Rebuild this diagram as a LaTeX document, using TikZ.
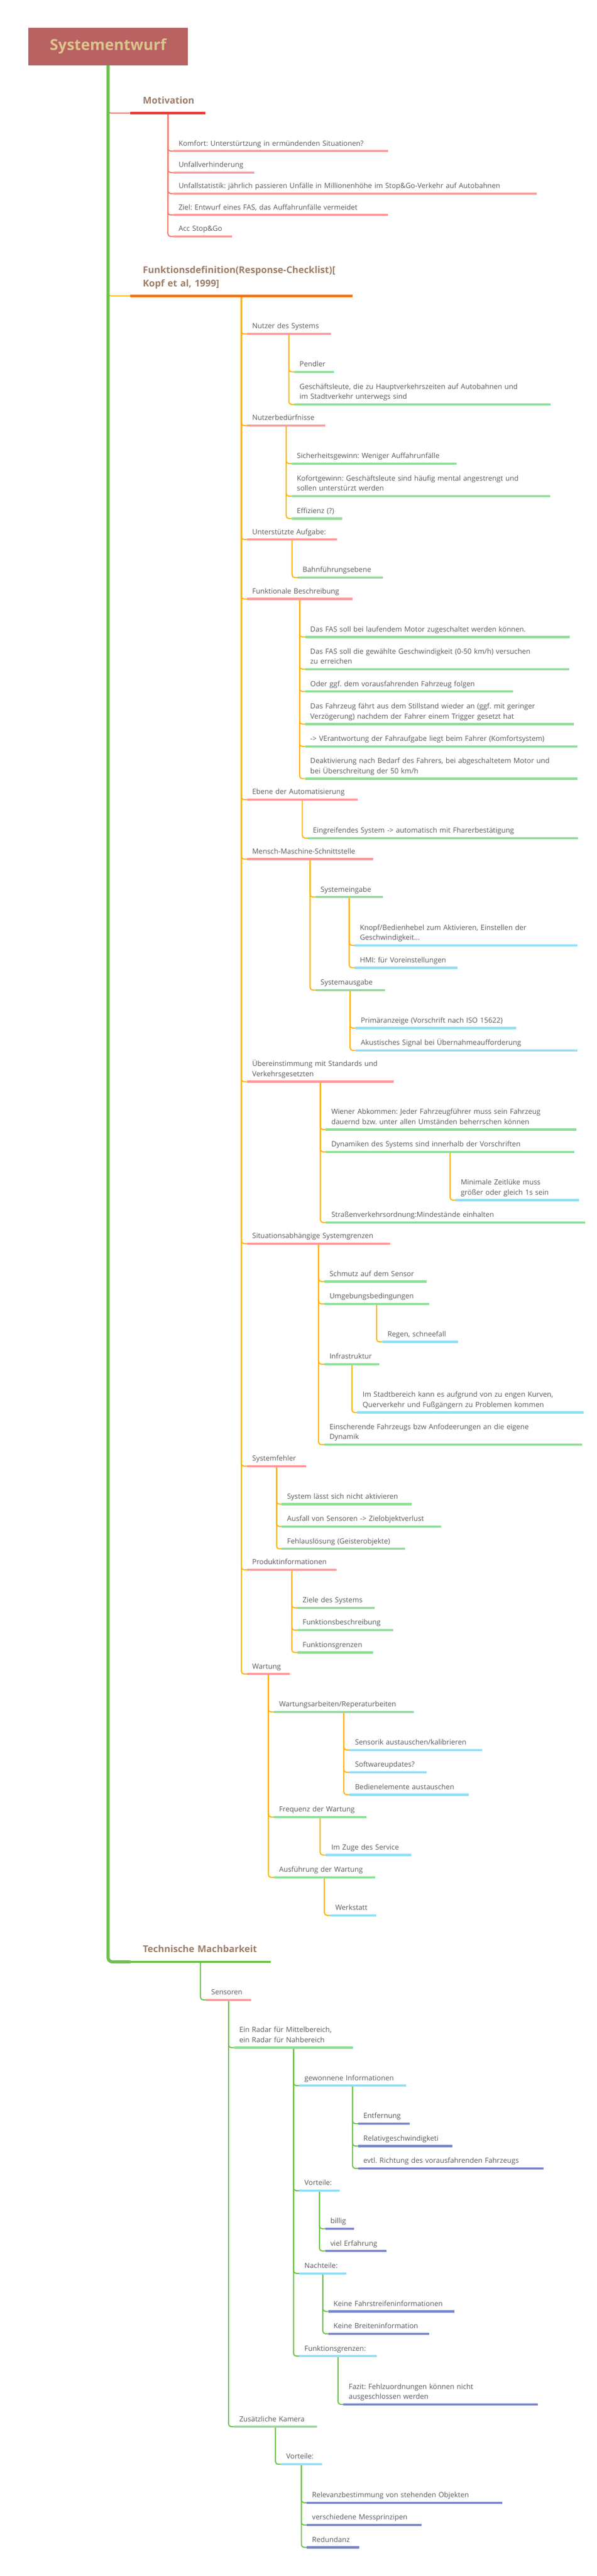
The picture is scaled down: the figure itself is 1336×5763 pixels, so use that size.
\documentclass[tikz,border=0pt]{standalone}
\usepackage{fontspec}
\usepackage{tikz}
\usetikzlibrary{backgrounds}
\newfontfamily\mmfont{Open Sans}
\newcommand\leaffont{\mmfont\frenchspacing\fontsize{16}{22.5}\selectfont}
\newcommand\headfont{\mmfont\frenchspacing\bfseries\fontsize{21}{30}\selectfont}
\definecolor{trunkgreen}{HTML}{6CC24A}
\definecolor{titlered}{HTML}{B86262}
\definecolor{titletan}{HTML}{DCC48E}
\definecolor{headbrown}{HTML}{9C7E69}
\definecolor{txtgrey}{HTML}{5A5A60}
\definecolor{motivred}{HTML}{E53935}
\definecolor{motivline}{HTML}{F47A68}
\definecolor{fktorange}{HTML}{FF6D00}
\definecolor{fktline}{HTML}{FFB300}
\definecolor{pinkbar}{HTML}{FF9A9A}
\definecolor{greenbar}{HTML}{8FDE99}
\definecolor{cyanbar}{HTML}{8FDFF8}
\definecolor{purplebar}{HTML}{7986CB}
\tikzset{
  titlebox/.style={
    rectangle,
    minimum width=358pt,
    minimum height=84pt,
    fill=titlered,
    text=titletan,
    font=\mmfont\bfseries\fontsize{34}{40}\selectfont
    },
  % bar length -> text width (bar minus both inner xseps)
  barlen/.code={\pgfmathsetlengthmacro\mmwidth{#1-24}\edef\mmset{\noexpand\pgfkeysalso{/tikz/text width=\mmwidth}}\mmset},
  headlen/.code={\pgfmathsetlengthmacro\mmwidth{#1-56}\edef\mmset{\noexpand\pgfkeysalso{/tikz/text width=\mmwidth}}\mmset},
  topic/.style={
    anchor=south west,
    inner xsep=28pt, inner ysep=12pt, outer sep=0pt,
    align=left, font=\headfont, text=headbrown,
    execute at end node=\strut,
    append after command={(\tikzlastnode.south west) edge[draw=#1, line width=5pt] (\tikzlastnode.south east)}
    },
  leaf/.style={
    anchor=south west,
    inner xsep=12pt, inner ysep=5pt, outer sep=0pt,
    align=left, font=\leaffont, text=txtgrey,
    execute at end node=\strut,
    append after command={(\tikzlastnode.south west) edge[draw=#1, line width=5pt] (\tikzlastnode.south east)}
    },
  link/.style={rounded corners=6pt, line width=2.5pt},
  trunk/.style={rounded corners=10pt, line width=7pt, draw=trunkgreen},
}

\begin{document}
\begin{tikzpicture}[x=1pt, y=-1pt]
  \useasboundingbox (0,0) rectangle (1336,5763);

  \node[titlebox] (title) at (242,104) {Systementwurf};

  % Motivation
  \node[topic=motivred, headlen=168] (motiv) at (292,253) {Motivation};
  \node[leaf=pinkbar, barlen=481] (komfort) at (388,338) {Komfort: Unterstürtzung in ermündenden Situationen?};
  \node[leaf=pinkbar, barlen=181] (unfallv) at (388,386) {Unfallverhinderung};
  \node[leaf=pinkbar, barlen=814] (unfalls) at (388,433) {Unfallstatistik: jährlich passieren Unfälle in Millionenhöhe im Stop\&Go-Verkehr auf Autobahnen};
  \node[leaf=pinkbar, barlen=481] (ziel) at (388,481) {Ziel: Entwurf eines FAS, das Auffahrunfälle vermeidet};
  \node[leaf=pinkbar, barlen=132] (acc) at (388,529) {Acc Stop\&Go};

  % Funktionsdefinition
  \node[topic=fktorange, headlen=497] (fkt) at (292,662) {Funktionsdefinition(Response-Checklist)[\\Kopf et al, 1999]};

  \node[leaf=pinkbar, barlen=188] (nutzer) at (553,747) {Nutzer des Systems};
  \node[leaf=greenbar, barlen=89] (pendler) at (659,832) {Pendler};
  \node[leaf=greenbar, barlen=574] (geschaeft) at (659,905) {Geschäftsleute, die zu Hauptverkehrszeiten auf Autobahnen und\\im Stadtverkehr unterwegs sind};

  \node[leaf=pinkbar, barlen=176] (beduerf) at (553,952) {Nutzerbedürfnisse};
  \node[leaf=greenbar, barlen=369] (sicher) at (653,1037) {Sicherheitsgewinn: Weniger Auffahrunfälle};
  \node[leaf=greenbar, barlen=579] (kofort) at (653,1110) {Kofortgewinn: Geschäftsleute sind häufig mental angestrengt und\\sollen unterstürzt werden};
  \node[leaf=greenbar, barlen=113] (effiz) at (653,1160) {Effizienz (?)};

  \node[leaf=pinkbar, barlen=202] (aufgabe) at (553,1207) {Unterstützte Aufgabe:};
  \node[leaf=greenbar, barlen=192] (bahn) at (666,1292) {Bahnführungsebene};

  \node[leaf=pinkbar, barlen=236] (fktbeschr) at (553,1340) {Funktionale Beschreibung};
  \node[leaf=greenbar, barlen=593] (fas1) at (683,1425) {Das FAS soll bei laufendem Motor zugeschaltet werden können.};
  \node[leaf=greenbar, barlen=592] (fas2) at (683,1497) {Das FAS soll die gewählte Geschwindigkeit (0-50 km/h) versuchen\\zu erreichen};
  \node[leaf=greenbar, barlen=466] (oder) at (683,1547) {Oder ggf. dem vorausfahrenden Fahrzeug folgen};
  \node[leaf=greenbar, barlen=602] (stillstand) at (683,1620) {Das Fahrzeug fährt aus dem Stillstand wieder an (ggf. mit geringer\\Verzögerung) nachdem der Fahrer einem Trigger gesetzt hat};
  \node[leaf=greenbar, barlen=610] (verantw) at (683,1670) {-> VErantwortung der Fahraufgabe liegt beim Fahrer (Komfortsystem)};
  \node[leaf=greenbar, barlen=610] (deakt) at (683,1742) {Deaktivierung nach Bedarf des Fahrers, bei abgeschaltetem Motor und\\bei Überschreitung der 50 km/h};

  \node[leaf=pinkbar, barlen=248] (ebene) at (553,1789) {Ebene der Automatisierung};
  \node[leaf=greenbar, barlen=605] (eingreif) at (689,1875) {Eingreifendes System -> automatisch mit Fharerbestätigung};

  \node[leaf=pinkbar, barlen=283] (mms) at (553,1922) {Mensch-Maschine-Schnittstelle};
  \node[leaf=greenbar, barlen=152] (eingabe) at (706,2007) {Systemeingabe};
  \node[leaf=cyanbar, barlen=499] (knopf) at (794,2115) {Knopf/Bedienhebel zum Aktivieren, Einstellen der\\Geschwindigkeit...};
  \node[leaf=cyanbar, barlen=231] (hmi) at (794,2165) {HMI: für Voreinstellungen};
  \node[leaf=greenbar, barlen=156] (ausgabe) at (706,2215) {Systemausgabe};
  \node[leaf=cyanbar, barlen=360] (primaer) at (796,2300) {Primäranzeige (Vorschrift nach ISO 15622)};
  \node[leaf=cyanbar, barlen=497] (akust) at (796,2350) {Akustisches Signal bei Übernahmeaufforderung};

  \node[leaf=pinkbar, barlen=329] (standards) at (553,2420) {Übereinstimmung mit Standards und\\Verkehrsgesetzten};
  \node[leaf=greenbar, barlen=561] (wiener) at (730,2527) {Wiener Abkommen: Jeder Fahrzeugführer muss sein Fahrzeug\\dauernd bzw. unter allen Umständen beherrschen können};
  \node[leaf=greenbar, barlen=556] (dynamik) at (730,2577) {Dynamiken des Systems sind innerhalb der Vorschriften};
  \node[leaf=cyanbar, barlen=277] (zeitluecke) at (1020,2685) {Minimale Zeitlüke muss\\größer oder gleich 1s sein};
  \node[leaf=greenbar, barlen=581] (stvo) at (730,2735) {Straßenverkehrsordnung:Mindestände einhalten};

  \node[leaf=pinkbar, barlen=321] (situation) at (553,2782) {Situationsabhängige Systemgrenzen};
  \node[leaf=greenbar, barlen=230] (schmutz) at (726,2867) {Schmutz auf dem Sensor};
  \node[leaf=greenbar, barlen=235] (umgebung) at (726,2917) {Umgebungsbedingungen};
  \node[leaf=cyanbar, barlen=170] (regen) at (856,3002) {Regen, schneefall};
  \node[leaf=greenbar, barlen=124] (infra) at (726,3052) {Infrastruktur};
  \node[leaf=cyanbar, barlen=507] (stadt) at (800,3160) {Im Stadtbereich kann es aufgrund von zu engen Kurven,\\Querverkehr und Fußgängern zu Problemen kommen};
  \node[leaf=greenbar, barlen=578] (einscher) at (726,3232) {Einscherende Fahrzeugs bzw Anfodeerungen an die eigene\\Dynamik};

  \node[leaf=pinkbar, barlen=133] (fehler) at (553,3280) {Systemfehler};
  \node[leaf=greenbar, barlen=291] (aktiv) at (631,3365) {System lässt sich nicht aktivieren};
  \node[leaf=greenbar, barlen=357] (ausfall) at (631,3415) {Ausfall von Sensoren -> Zielobjektverlust};
  \node[leaf=greenbar, barlen=276] (fehlaus) at (631,3465) {Fehlauslösung (Geisterobjekte)};

  \node[leaf=pinkbar, barlen=201] (produkt) at (553,3512) {Produktinformationen};
  \node[leaf=greenbar, barlen=173] (ziele) at (666,3597) {Ziele des Systems};
  \node[leaf=greenbar, barlen=215] (pbeschr) at (666,3647) {Funktionsbeschreibung};
  \node[leaf=greenbar, barlen=170] (pgrenz) at (666,3697) {Funktionsgrenzen};

  \node[leaf=pinkbar, barlen=96] (wartung) at (553,3745) {Wartung};
  \node[leaf=greenbar, barlen=314] (arbeiten) at (613,3830) {Wartungsarbeiten/Reperaturbeiten};
  \node[leaf=cyanbar, barlen=297] (sensorik) at (783,3915) {Sensorik austauschen/kalibrieren};
  \node[leaf=cyanbar, barlen=172] (software) at (783,3965) {Softwareupdates?};
  \node[leaf=cyanbar, barlen=267] (bedien) at (783,4015) {Bedienelemente austauschen};
  \node[leaf=greenbar, barlen=208] (frequenz) at (613,4065) {Frequenz der Wartung};
  \node[leaf=cyanbar, barlen=191] (service) at (730,4150) {Im Zuge des Service};
  \node[leaf=greenbar, barlen=227] (ausfuehr) at (613,4200) {Ausführung der Wartung};
  \node[leaf=cyanbar, barlen=104] (werkstatt) at (739,4285) {Werkstatt};

  % Technische Machbarkeit
  \node[topic=trunkgreen, headlen=314] (tech) at (292,4389) {Technische Machbarkeit};
  \node[leaf=pinkbar, barlen=102] (sensoren) at (461,4474) {Sensoren};
  \node[leaf=greenbar, barlen=267] (radar) at (524,4581) {Ein Radar für Mittelbereich,\\ein Radar für Nahbereich};
  \node[leaf=cyanbar, barlen=239] (gewonnen) at (670,4666) {gewonnene Informationen};
  \node[leaf=purplebar, barlen=115] (entf) at (802,4751) {Entfernung};
  \node[leaf=purplebar, barlen=211] (relativ) at (802,4801) {Relativgeschwindigketi};
  \node[leaf=purplebar, barlen=415] (richtung) at (802,4851) {evtl. Richtung des vorausfahrenden Fahrzeugs};
  \node[leaf=cyanbar, barlen=91] (vorteile) at (670,4901) {Vorteile:};
  \node[leaf=purplebar, barlen=65] (billig) at (728,4986) {billig};
  \node[leaf=purplebar, barlen=138] (erfahrung) at (728,5036) {viel Erfahrung};
  \node[leaf=cyanbar, barlen=106] (nachteile) at (670,5086) {Nachteile:};
  \node[leaf=purplebar, barlen=283] (fahrstreifen) at (735,5171) {Keine Fahrstreifeninformationen};
  \node[leaf=purplebar, barlen=226] (breite) at (735,5221) {Keine Breiteninformation};
  \node[leaf=cyanbar, barlen=174] (grenzen) at (670,5271) {Funktionsgrenzen:};
  \node[leaf=purplebar, barlen=435] (fazit) at (769,5379) {Fazit: Fehlzuordnungen können nicht\\ausgeschlossen werden};
  \node[leaf=greenbar, barlen=186] (kamera) at (524,5429) {Zusätzliche Kamera};
  \node[leaf=cyanbar, barlen=92] (kvorteile) at (629,5513) {Vorteile:};
  \node[leaf=purplebar, barlen=438] (relevanz) at (687,5599) {Relevanzbestimmung von stehenden Objekten};
  \node[leaf=purplebar, barlen=257] (mess) at (687,5649) {verschiedene Messprinzipen};
  \node[leaf=purplebar, barlen=118] (redundanz) at (687,5699) {Redundanz};

  \begin{pgfonlayer}{background}
    % branches off the trunk
    \draw[link, motivline] (title.south) |- (motiv.south west);
    \draw[link, fktline] (title.south) |- (fkt.south west);
    \draw[trunk] (title.south) |- (tech.south west);

    \foreach \c in {komfort,unfallv,unfalls,ziel,acc}
      \draw[link, motivline] (motiv.south) |- (\c.south west);

    \foreach \p/\c in {fkt/nutzer, fkt/beduerf, fkt/aufgabe, fkt/fktbeschr, fkt/ebene, fkt/mms,
        fkt/standards, fkt/situation, fkt/fehler, fkt/produkt, fkt/wartung,
        nutzer/pendler, nutzer/geschaeft, beduerf/sicher, beduerf/kofort, beduerf/effiz,
        aufgabe/bahn, fktbeschr/fas1, fktbeschr/fas2, fktbeschr/oder, fktbeschr/stillstand,
        fktbeschr/verantw, fktbeschr/deakt, ebene/eingreif, mms/eingabe, mms/ausgabe,
        eingabe/knopf, eingabe/hmi, ausgabe/primaer, ausgabe/akust,
        standards/wiener, standards/dynamik, standards/stvo, dynamik/zeitluecke,
        situation/schmutz, situation/umgebung, situation/infra, situation/einscher,
        umgebung/regen, infra/stadt, fehler/aktiv, fehler/ausfall, fehler/fehlaus,
        produkt/ziele, produkt/pbeschr, produkt/pgrenz,
        wartung/arbeiten, wartung/frequenz, wartung/ausfuehr,
        arbeiten/sensorik, arbeiten/software, arbeiten/bedien,
        frequenz/service, ausfuehr/werkstatt}
      \draw[link, fktline] (\p.south) |- (\c.south west);

    \foreach \p/\c in {tech/sensoren, sensoren/radar, sensoren/kamera,
        radar/gewonnen, radar/vorteile, radar/nachteile, radar/grenzen,
        gewonnen/entf, gewonnen/relativ, gewonnen/richtung,
        vorteile/billig, vorteile/erfahrung, nachteile/fahrstreifen, nachteile/breite,
        grenzen/fazit, kamera/kvorteile,
        kvorteile/relevanz, kvorteile/mess, kvorteile/redundanz}
      \draw[link, trunkgreen] (\p.south) |- (\c.south west);
  \end{pgfonlayer}
\end{tikzpicture}
\end{document}
